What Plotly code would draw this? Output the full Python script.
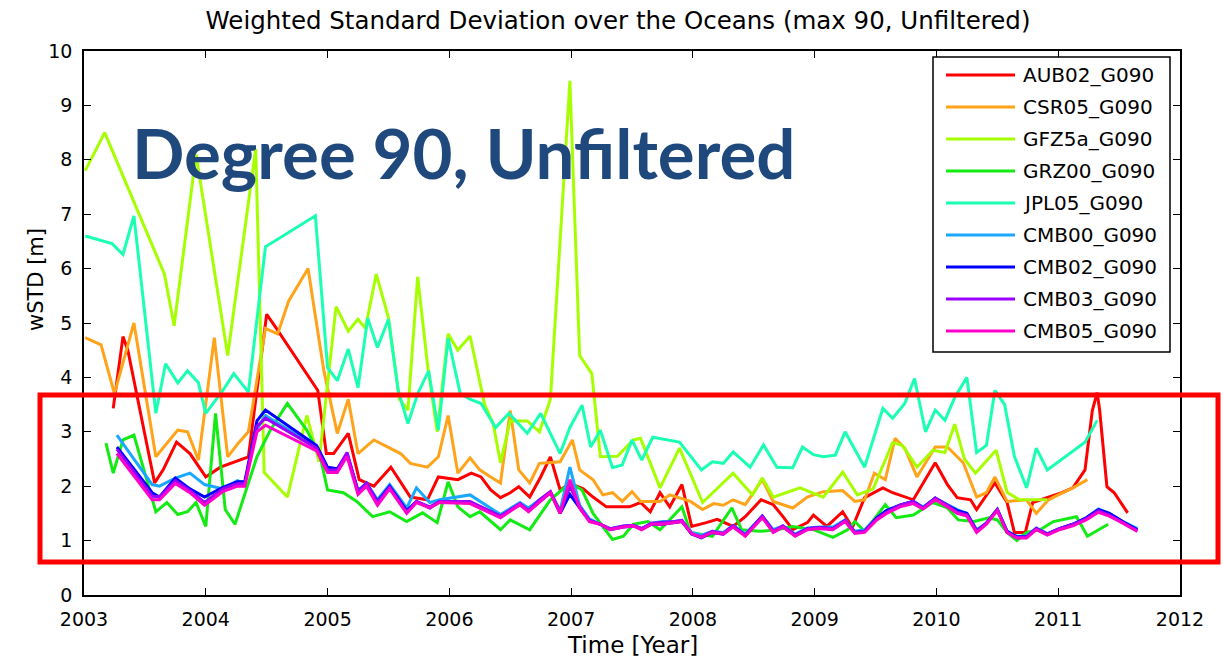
import plotly.graph_objects as go

# ---- series names and colours -------------------------------------------
SERIES = ["AUB02_G090", "CSR05_G090", "GFZ5a_G090", "GRZ00_G090", "JPL05_G090",
          "CMB00_G090", "CMB02_G090", "CMB03_G090", "CMB05_G090"]
COLORS = ["#FF0000", "#FFA31A", "#A6FF00", "#14EB14", "#1AFFB3",
          "#1AA8FF", "#0000FF", "#9900FF", "#FF00CC"]

# ---- monthly solutions: time [year] and wSTD [m] ---------------------------
AUB_T = [2003.24, 2003.32, 2003.36, 2003.44, 2003.58, 2003.65, 2003.76, 2003.87, 2004.00, 2004.12,
         2004.23, 2004.35, 2004.50, 2004.58, 2004.92, 2004.99, 2005.05, 2005.17, 2005.26, 2005.38,
         2005.52, 2005.68, 2005.82, 2005.91, 2006.07, 2006.18, 2006.26, 2006.34, 2006.42, 2006.50,
         2006.57, 2006.66, 2006.75, 2006.83, 2006.91, 2006.99, 2007.10, 2007.18, 2007.29, 2007.48,
         2007.57, 2007.65, 2007.73, 2007.81, 2007.91, 2007.99, 2008.11, 2008.20, 2008.33, 2008.43,
         2008.56, 2008.66, 2008.74, 2008.82, 2008.94, 2008.99, 2009.10, 2009.23, 2009.31, 2009.41,
         2009.56, 2009.64, 2009.81, 2009.99, 2010.09, 2010.17, 2010.28, 2010.33, 2010.48, 2010.58,
         2010.64, 2010.73, 2010.79, 2010.91, 2011.03, 2011.12, 2011.22, 2011.28, 2011.32, 2011.34,
         2011.40, 2011.46, 2011.57]
AUB_V = [3.43, 4.75, 4.50, 3.63, 2.06, 2.30, 2.81, 2.60, 2.17, 2.35,
         2.44, 2.54, 5.16, 4.90, 3.76, 2.60, 2.60, 2.97, 2.12, 2.00,
         2.35, 1.80, 1.75, 2.17, 2.12, 2.24, 2.17, 1.93, 1.79, 1.88,
         1.99, 1.80, 2.17, 2.54, 1.93, 2.05, 1.95, 1.80, 1.62, 1.62,
         1.70, 1.53, 1.88, 1.62, 2.03, 1.26, 1.33, 1.39, 1.26, 1.44,
         1.75, 1.66, 1.44, 1.20, 1.33, 1.47, 1.26, 1.53, 1.24, 1.79,
         1.97, 1.88, 1.75, 2.43, 2.03, 1.79, 1.75, 1.57, 2.06, 1.70,
         1.15, 1.15, 1.70, 1.79, 1.88, 1.97, 2.30, 3.39, 3.72, 3.40,
         1.99, 1.88, 1.51]

CSR_T = [2003.01, 2003.14, 2003.25, 2003.41, 2003.59, 2003.77, 2003.85, 2003.94, 2004.07, 2004.18,
         2004.27, 2004.35, 2004.49, 2004.59, 2004.68, 2004.84, 2004.89, 2004.97, 2005.08, 2005.17,
         2005.25, 2005.38, 2005.60, 2005.68, 2005.82, 2005.91, 2005.99, 2006.07, 2006.17, 2006.25,
         2006.34, 2006.42, 2006.50, 2006.57, 2006.66, 2006.74, 2006.91, 2007.01, 2007.07, 2007.18,
         2007.26, 2007.34, 2007.42, 2007.50, 2007.57, 2007.73, 2007.81, 2007.98, 2008.08, 2008.17,
         2008.25, 2008.33, 2008.43, 2008.57, 2008.66, 2008.74, 2008.82, 2008.94, 2009.07, 2009.23,
         2009.33, 2009.41, 2009.49, 2009.58, 2009.66, 2009.74, 2009.84, 2009.99, 2010.09, 2010.22,
         2010.33, 2010.41, 2010.48, 2010.58, 2010.74, 2010.82, 2010.92, 2011.00, 2011.12, 2011.24]
CSR_V = [4.73, 4.60, 3.70, 5.00, 2.54, 3.03, 3.00, 2.48, 4.73, 2.54,
         2.80, 3.00, 4.90, 4.80, 5.40, 6.00, 5.27, 4.12, 2.97, 3.60,
         2.60, 2.85, 2.60, 2.42, 2.35, 2.54, 3.30, 2.24, 2.52, 2.30,
         2.17, 2.06, 3.39, 2.30, 2.06, 2.42, 2.45, 2.85, 2.30, 2.12,
         1.84, 1.88, 1.72, 1.90, 1.72, 1.72, 1.84, 1.72, 1.57, 1.68,
         1.65, 1.75, 1.66, 2.12, 1.72, 1.66, 1.60, 1.80, 1.90, 1.92,
         1.72, 1.75, 2.24, 2.12, 2.88, 2.70, 2.17, 2.72, 2.72, 2.43,
         1.80, 1.88, 2.17, 1.72, 1.75, 1.50, 1.75, 1.84, 1.97, 2.12]

GFZ_T = [2003.01, 2003.17, 2003.66, 2003.74, 2003.92, 2004.18, 2004.41, 2004.48, 2004.67, 2004.83,
         2004.93, 2005.07, 2005.17, 2005.25, 2005.31, 2005.40, 2005.50, 2005.59, 2005.66, 2005.74,
         2005.82, 2005.90, 2005.99, 2006.07, 2006.17, 2006.29, 2006.36, 2006.42, 2006.50, 2006.64,
         2006.74, 2006.83, 2006.99, 2007.07, 2007.17, 2007.24, 2007.38, 2007.51, 2007.57, 2007.73,
         2007.89, 2008.08, 2008.33, 2008.49, 2008.57, 2008.66, 2008.88, 2009.07, 2009.23, 2009.35,
         2009.48, 2009.64, 2009.72, 2009.84, 2009.97, 2010.07, 2010.15, 2010.23, 2010.32, 2010.49,
         2010.58, 2010.68, 2010.91]
GFZ_V = [7.80, 8.50, 5.90, 4.95, 8.10, 4.40, 8.20, 2.25, 1.80, 3.30,
         2.45, 5.30, 4.85, 5.07, 4.90, 5.90, 5.10, 3.60, 3.40, 5.85,
         4.25, 3.00, 4.80, 4.50, 4.76, 3.50, 3.15, 2.43, 3.20, 3.20,
         3.00, 3.60, 9.45, 4.40, 4.07, 2.54, 2.55, 2.85, 2.88, 1.97,
         2.70, 1.70, 2.24, 1.84, 2.15, 1.80, 1.97, 1.80, 2.26, 1.84,
         1.95, 2.80, 2.75, 2.35, 2.66, 2.62, 3.14, 2.50, 2.24, 2.66,
         1.89, 1.75, 1.75]

GRZ_T = [2003.18, 2003.24, 2003.32, 2003.41, 2003.59, 2003.68, 2003.77, 2003.85, 2003.92, 2004.00,
         2004.08, 2004.16, 2004.24, 2004.34, 2004.42, 2004.53, 2004.67, 2004.83, 2004.94, 2005.00,
         2005.13, 2005.24, 2005.37, 2005.51, 2005.65, 2005.78, 2005.90, 2005.99, 2006.07, 2006.17,
         2006.25, 2006.42, 2006.50, 2006.66, 2006.83, 2006.99, 2007.09, 2007.18, 2007.34, 2007.43,
         2007.51, 2007.63, 2007.73, 2007.91, 2007.98, 2008.16, 2008.32, 2008.40, 2008.55, 2008.69,
         2008.82, 2008.99, 2009.15, 2009.27, 2009.33, 2009.41, 2009.58, 2009.67, 2009.81, 2009.97,
         2010.09, 2010.18, 2010.31, 2010.43, 2010.50, 2010.58, 2010.66, 2010.74, 2010.85, 2010.96,
         2011.15, 2011.24, 2011.41]
GRZ_V = [2.79, 2.24, 2.85, 2.94, 1.53, 1.70, 1.48, 1.53, 1.70, 1.26,
         3.34, 1.57, 1.30, 1.99, 2.54, 3.03, 3.52, 3.03, 2.54, 1.93,
         1.88, 1.72, 1.44, 1.53, 1.35, 1.51, 1.33, 2.08, 1.62, 1.44,
         1.53, 1.20, 1.38, 1.20, 1.75, 2.06, 1.93, 1.50, 1.02, 1.08,
         1.30, 1.35, 1.20, 1.62, 1.15, 1.08, 1.60, 1.20, 1.17, 1.20,
         1.26, 1.20, 1.06, 1.20, 1.35, 1.17, 1.66, 1.42, 1.47, 1.70,
         1.60, 1.38, 1.35, 1.42, 1.38, 1.15, 1.00, 1.15, 1.20, 1.35,
         1.44, 1.08, 1.30]

JPL_T = [2003.01, 2003.23, 2003.32, 2003.41, 2003.59, 2003.67, 2003.77, 2003.85, 2003.94, 2004.00,
         2004.14, 2004.23, 2004.35, 2004.49, 2004.90, 2005.00, 2005.08, 2005.17, 2005.25, 2005.33,
         2005.41, 2005.50, 2005.58, 2005.66, 2005.74, 2005.83, 2005.91, 2005.99, 2006.09, 2006.17,
         2006.26, 2006.38, 2006.49, 2006.64, 2006.75, 2006.91, 2006.99, 2007.09, 2007.16, 2007.24,
         2007.34, 2007.42, 2007.50, 2007.58, 2007.67, 2007.89, 2008.07, 2008.16, 2008.25, 2008.33,
         2008.47, 2008.58, 2008.69, 2008.82, 2008.90, 2008.99, 2009.07, 2009.17, 2009.25, 2009.41,
         2009.56, 2009.64, 2009.74, 2009.82, 2009.91, 2009.99, 2010.07, 2010.15, 2010.25, 2010.33,
         2010.41, 2010.48, 2010.56, 2010.64, 2010.74, 2010.82, 2010.91, 2011.22, 2011.32]
JPL_V = [6.60, 6.46, 6.26, 6.97, 3.34, 4.25, 3.90, 4.12, 3.90, 3.34,
         3.76, 4.07, 3.73, 6.40, 6.97, 4.18, 3.94, 4.52, 3.81, 5.09,
         4.55, 5.07, 3.76, 3.15, 3.70, 4.12, 3.03, 4.72, 3.70, 3.60,
         3.52, 3.08, 3.34, 2.97, 3.34, 2.60, 3.08, 3.49, 2.72, 3.03,
         2.34, 2.39, 2.85, 2.48, 2.90, 2.81, 2.30, 2.45, 2.42, 2.63,
         2.35, 2.76, 2.35, 2.34, 2.72, 2.58, 2.54, 2.57, 3.00, 2.35,
         3.43, 3.25, 3.52, 3.98, 3.00, 3.40, 3.21, 3.63, 4.00, 2.62,
         2.75, 3.76, 3.50, 2.55, 1.97, 2.70, 2.30, 2.81, 3.21]

# the four combined solutions share one time axis
CMB_T = [2003.27, 2003.56, 2003.62, 2003.75, 2003.87, 2003.99, 2004.14, 2004.26, 2004.32, 2004.42,
         2004.49, 2004.91, 2005.00, 2005.08, 2005.16, 2005.25, 2005.32, 2005.41, 2005.51, 2005.65,
         2005.73, 2005.84, 2005.92, 2006.17, 2006.42, 2006.58, 2006.65, 2006.74, 2006.83, 2006.91,
         2006.99, 2007.07, 2007.15, 2007.24, 2007.32, 2007.43, 2007.51, 2007.58, 2007.66, 2007.75,
         2007.85, 2007.91, 2007.99, 2008.07, 2008.16, 2008.25, 2008.33, 2008.43, 2008.57, 2008.66,
         2008.74, 2008.84, 2008.94, 2009.04, 2009.15, 2009.25, 2009.33, 2009.41, 2009.51, 2009.59,
         2009.70, 2009.81, 2009.89, 2009.99, 2010.09, 2010.17, 2010.25, 2010.33, 2010.41, 2010.50,
         2010.58, 2010.66, 2010.74, 2010.82, 2010.91, 2011.01, 2011.12, 2011.23, 2011.33, 2011.42,
         2011.53, 2011.65]
CMB00_V = [2.94, 2.03, 2.00, 2.15, 2.24, 2.03, 1.95, 2.10, 2.05, 3.05,
           3.30, 2.72, 2.30, 2.30, 2.60, 1.90, 2.06, 1.75, 2.03, 1.60,
           1.97, 1.70, 1.75, 1.84, 1.48, 1.70, 1.60, 1.75, 1.90, 1.55,
           2.35, 1.65, 1.40, 1.30, 1.22, 1.27, 1.28, 1.22, 1.32, 1.35,
           1.35, 1.37, 1.15, 1.10, 1.17, 1.15, 1.28, 1.12, 1.45, 1.20,
           1.27, 1.12, 1.23, 1.25, 1.25, 1.38, 1.17, 1.20, 1.42, 1.55,
           1.65, 1.72, 1.62, 1.78, 1.67, 1.57, 1.50, 1.20, 1.32, 1.58,
           1.17, 1.08, 1.08, 1.23, 1.13, 1.22, 1.30, 1.42, 1.58, 1.50,
           1.35, 1.22]
CMB02_V = [2.72, 1.88, 1.80, 2.15, 1.95, 1.80, 1.98, 2.08, 2.08, 3.20,
           3.40, 2.75, 2.35, 2.32, 2.60, 1.92, 2.05, 1.72, 2.00, 1.55,
           1.72, 1.60, 1.72, 1.70, 1.45, 1.66, 1.55, 1.72, 1.88, 1.50,
           1.85, 1.60, 1.37, 1.30, 1.20, 1.25, 1.27, 1.22, 1.30, 1.30,
           1.33, 1.35, 1.12, 1.05, 1.15, 1.12, 1.27, 1.10, 1.45, 1.17,
           1.25, 1.10, 1.22, 1.24, 1.22, 1.37, 1.15, 1.17, 1.42, 1.55,
           1.65, 1.72, 1.60, 1.78, 1.65, 1.55, 1.50, 1.18, 1.32, 1.57,
           1.17, 1.07, 1.07, 1.22, 1.12, 1.22, 1.30, 1.42, 1.57, 1.50,
           1.35, 1.20]
CMB03_V = [2.68, 1.82, 1.80, 2.10, 1.92, 1.70, 1.95, 2.05, 2.05, 3.10,
           3.25, 2.70, 2.30, 2.30, 2.62, 1.90, 2.05, 1.70, 1.98, 1.52,
           1.72, 1.62, 1.72, 1.72, 1.45, 1.68, 1.55, 1.75, 1.90, 1.52,
           2.00, 1.62, 1.37, 1.30, 1.22, 1.27, 1.28, 1.22, 1.32, 1.33,
           1.35, 1.37, 1.12, 1.07, 1.17, 1.13, 1.27, 1.10, 1.45, 1.17,
           1.27, 1.10, 1.22, 1.24, 1.22, 1.37, 1.15, 1.17, 1.40, 1.52,
           1.65, 1.72, 1.60, 1.78, 1.65, 1.52, 1.48, 1.17, 1.32, 1.57,
           1.15, 1.05, 1.07, 1.22, 1.12, 1.22, 1.30, 1.40, 1.55, 1.47,
           1.33, 1.18]
CMB05_V = [2.60, 1.75, 1.75, 2.05, 1.88, 1.65, 1.90, 2.00, 2.00, 3.00,
           3.12, 2.65, 2.25, 2.25, 2.55, 1.85, 2.00, 1.65, 1.95, 1.50,
           1.70, 1.60, 1.70, 1.68, 1.42, 1.66, 1.53, 1.70, 1.88, 1.50,
           2.12, 1.60, 1.35, 1.30, 1.20, 1.25, 1.27, 1.20, 1.30, 1.30,
           1.33, 1.35, 1.13, 1.06, 1.15, 1.12, 1.25, 1.08, 1.42, 1.15,
           1.25, 1.08, 1.20, 1.22, 1.20, 1.35, 1.13, 1.15, 1.38, 1.50,
           1.62, 1.68, 1.58, 1.75, 1.62, 1.50, 1.45, 1.15, 1.30, 1.55,
           1.15, 1.05, 1.05, 1.20, 1.10, 1.20, 1.27, 1.38, 1.52, 1.45,
           1.32, 1.17]

TIMES = [AUB_T, CSR_T, GFZ_T, GRZ_T, JPL_T, CMB_T, CMB_T, CMB_T, CMB_T]
VALUES = [AUB_V, CSR_V, GFZ_V, GRZ_V, JPL_V, CMB00_V, CMB02_V, CMB03_V, CMB05_V]

X_TICKS = list(range(2003, 2013))
Y_TICKS = list(range(0, 11))

# ---- page geometry (pixels) -----------------------------------------------
W, H = 1223, 661
L, R, T, B = 84, 1180, 51, 595          # plot-area edges


def px(x):
    return (x - L) / (R - L)


def py(y):
    return (B - y) / (B - T)


TICK_FONT = dict(family="DejaVu Sans", size=19, color="black")

fig = go.Figure()
for name, color, t, v in zip(SERIES, COLORS, TIMES, VALUES):
    fig.add_trace(go.Scatter(x=t, y=v, mode="lines", name=name,
                             line=dict(color=color, width=3),
                             showlegend=False))

axis_common = dict(showline=True, linecolor="black", linewidth=1.5, mirror="ticks",
                   ticks="inside", ticklen=7, tickwidth=1, tickcolor="black",
                   showgrid=False, zeroline=False, tickfont=TICK_FONT,
                   automargin=False, ticklabelstandoff=6)

fig.update_xaxes(range=[2003, 2012], tickvals=X_TICKS, tickformat="d", **axis_common)
fig.update_yaxes(range=[0, 10], tickvals=Y_TICKS, **axis_common)

shapes = []
annotations = []

# axis titles
annotations.append(dict(xref="paper", yref="paper", x=px(632), y=py(645),
                        xanchor="center", yanchor="middle", showarrow=False,
                        text="Time [Year]",
                        font=dict(family="DejaVu Sans", size=23, color="black")))
annotations.append(dict(xref="paper", yref="paper", x=px(36), y=py(280),
                        xanchor="center", yanchor="middle", showarrow=False,
                        textangle=-90, text="wSTD [m]",
                        font=dict(family="DejaVu Sans", size=21, color="black")))

# highlight box around the low-scatter band
shapes.append(dict(type="rect", xref="paper", yref="paper",
                   x0=px(40), x1=px(1218), y0=py(562), y1=py(395),
                   line=dict(color="#FF0000", width=5), layer="above"))

# legend box with one entry per series
LEG_X0, LEG_X1, LEG_Y0, LEG_Y1 = 933, 1170, 57, 352
shapes.append(dict(type="rect", xref="paper", yref="paper",
                   x0=px(LEG_X0), x1=px(LEG_X1), y0=py(LEG_Y1), y1=py(LEG_Y0),
                   line=dict(color="black", width=1.5), fillcolor="white", layer="above"))
for i, (name, color) in enumerate(zip(SERIES, COLORS)):
    yc = 75 + 32 * i
    shapes.append(dict(type="line", xref="paper", yref="paper",
                       x0=px(946), x1=px(1015), y0=py(yc), y1=py(yc),
                       line=dict(color=color, width=3), layer="above"))
    annotations.append(dict(xref="paper", yref="paper", x=px(1021), y=py(yc),
                            xanchor="left", yanchor="middle", showarrow=False,
                            text=name, font=dict(family="DejaVu Sans", size=20, color="black")))

# headline inside the plot area
annotations.append(dict(xref="paper", yref="paper", x=px(130), y=py(152),
                        xanchor="left", yanchor="middle", showarrow=False,
                        text="<b>Degree 90, Unfiltered</b>",
                        font=dict(family="Lato", size=69, color="#1F497D")))

fig.update_layout(
    width=W, height=H,
    margin=dict(l=L, r=W - R, t=T, b=H - B),
    paper_bgcolor="white", plot_bgcolor="white",
    title=dict(text="Weighted Standard Deviation over the Oceans (max 90, Unfiltered)",
               x=618 / W, xanchor="center", y=1 - 20 / H, yanchor="middle",
               font=dict(family="DejaVu Sans", size=24.5, color="black")),
    shapes=shapes, annotations=annotations, showlegend=False,
)

fig.write_html("out.html")
